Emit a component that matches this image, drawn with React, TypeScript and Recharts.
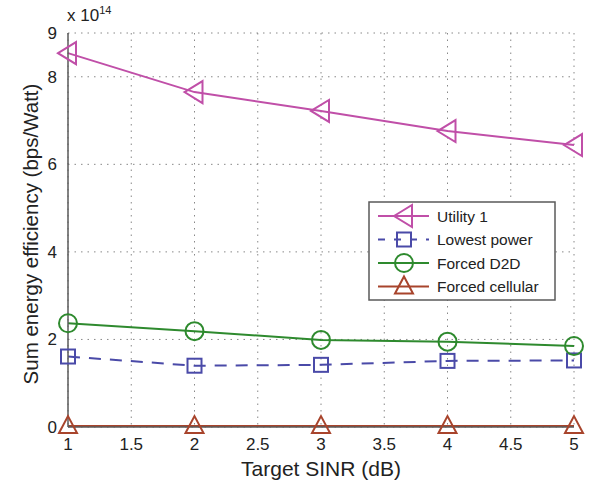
import { LineChart, Line, XAxis, YAxis, CartesianGrid } from 'recharts';

// values in units of 10^14 bps/Watt
const sinr = [1, 2, 3, 4, 5];
const utility1 = [8.54, 7.65, 7.22, 6.76, 6.44];
const lowestPower = [1.61, 1.4, 1.42, 1.51, 1.52];
const forcedD2D = [2.37, 2.19, 1.99, 1.95, 1.85];
const forcedCellular = [0.02, 0.02, 0.02, 0.02, 0.02];

const xTicks = [1, 1.5, 2, 2.5, 3, 3.5, 4, 4.5, 5];
const yTicks = [0, 2, 4, 6, 8, 9];

const FONT = '"Liberation Sans", Arial, sans-serif';
const AXIS = '#5a5a5a';

const SERIES = [
  { key: 'utility1', name: 'Utility 1', color: '#c04fa8', marker: 'left', dash: undefined },
  { key: 'lowestPower', name: 'Lowest power', color: '#4a4aa8', marker: 'square', dash: '12 9' },
  { key: 'forcedD2D', name: 'Forced D2D', color: '#2e8a2e', marker: 'circle', dash: undefined },
  { key: 'forcedCellular', name: 'Forced cellular', color: '#a8442c', marker: 'up', dash: undefined },
];

const data = sinr.map((x, i) => ({
  x,
  utility1: utility1[i],
  lowestPower: lowestPower[i],
  forcedD2D: forcedD2D[i],
  forcedCellular: forcedCellular[i],
}));

function Marker({ cx, cy, type, color }: { cx: number; cy: number; type: string; color: string }) {
  const p = { fill: 'none', stroke: color, strokeWidth: 2 };
  if (type === 'left') {
    return <polygon points={`${cx - 10},${cy} ${cx + 8},${cy - 11} ${cx + 8},${cy + 11}`} {...p} />;
  }
  if (type === 'up') {
    return <polygon points={`${cx},${cy - 10} ${cx + 9},${cy + 7} ${cx - 9},${cy + 7}`} {...p} />;
  }
  if (type === 'square') {
    return <rect x={cx - 7} y={cy - 7} width={14} height={14} {...p} />;
  }
  return <circle cx={cx} cy={cy} r={9} {...p} />;
}

function YLabel({ viewBox }: any) {
  const x = viewBox.x + 12;
  const y = viewBox.y + viewBox.height / 2 + 4;
  return (
    <text x={x} y={y} transform={`rotate(-90 ${x} ${y})`} textAnchor="middle" dominantBaseline="central" fontSize={20.5} fontFamily={FONT} fill="#222">
      Sum energy efficiency (bps/Watt)
    </text>
  );
}

function LegendBox() {
  return (
    <svg width={188} height={100} style={{ position: 'absolute', left: 368, top: 201, display: 'block' }}>
      <rect x={1} y={1} width={186} height={98} fill="#fff" stroke={AXIS} strokeWidth={1.5} />
      {SERIES.map((s, i) => {
        const y = 15 + i * 23.5;
        return (
          <g key={s.key}>
            <line x1={10} x2={61} y1={y} y2={y} stroke={s.color} strokeWidth={2} strokeDasharray={s.dash ? '7 9' : undefined} />
            <Marker cx={36} cy={y} type={s.marker} color={s.color} />
            <text x={69} y={y + 5.5} fontSize={15.5} fontFamily={FONT} fill="#222">
              {s.name}
            </text>
          </g>
        );
      })}
    </svg>
  );
}

export default function App() {
  return (
    <div style={{ position: 'absolute', left: 0, top: 0, width: 591, height: 482, background: '#fff', fontFamily: FONT }}>
      <div style={{ position: 'absolute', left: 67, top: 4, fontSize: 17, color: '#222' }}>
        x 10<sup style={{ fontSize: 11 }}>14</sup>
      </div>
      <LineChart width={591} height={482} data={data} margin={{ top: 33, right: 17, bottom: 0, left: 18 }}>
        <CartesianGrid stroke="#888" strokeDasharray="1.5 5" />
        <XAxis
          dataKey="x"
          type="number"
          domain={[1, 5]}
          ticks={xTicks}
          height={55}
          stroke={AXIS}
          strokeWidth={1.5}
          tickLine={false}
          tick={{ fill: '#222', fontSize: 17, fontFamily: FONT }}
          tickMargin={5}
          label={{ value: 'Target SINR (dB)', position: 'insideBottom', offset: 6, fill: '#222', fontSize: 21, fontFamily: FONT }}
        />
        <XAxis xAxisId="top" dataKey="x" type="number" domain={[1, 5]} orientation="top" height={0} tick={false} tickLine={false} stroke={AXIS} strokeWidth={1.5} />
        <YAxis
          type="number"
          domain={[0, 9]}
          ticks={yTicks}
          width={50}
          stroke={AXIS}
          strokeWidth={1.5}
          tickLine={false}
          tick={{ fill: '#222', fontSize: 17, fontFamily: FONT }}
          tickMargin={5}
          label={{ content: YLabel }}
        />
        <YAxis yAxisId="right" type="number" domain={[0, 9]} orientation="right" width={0} tick={false} tickLine={false} stroke={AXIS} strokeWidth={1.5} />
        {SERIES.map((s) => (
          <Line
            key={s.key}
            dataKey={s.key}
            name={s.name}
            type="linear"
            stroke={s.color}
            strokeWidth={2}
            strokeDasharray={s.dash}
            isAnimationActive={false}
            dot={(props: any) => <Marker key={`${s.key}-${props.index}`} cx={props.cx} cy={props.cy} type={s.marker} color={s.color} />}
            activeDot={false}
          />
        ))}
      </LineChart>
      <LegendBox />
    </div>
  );
}
